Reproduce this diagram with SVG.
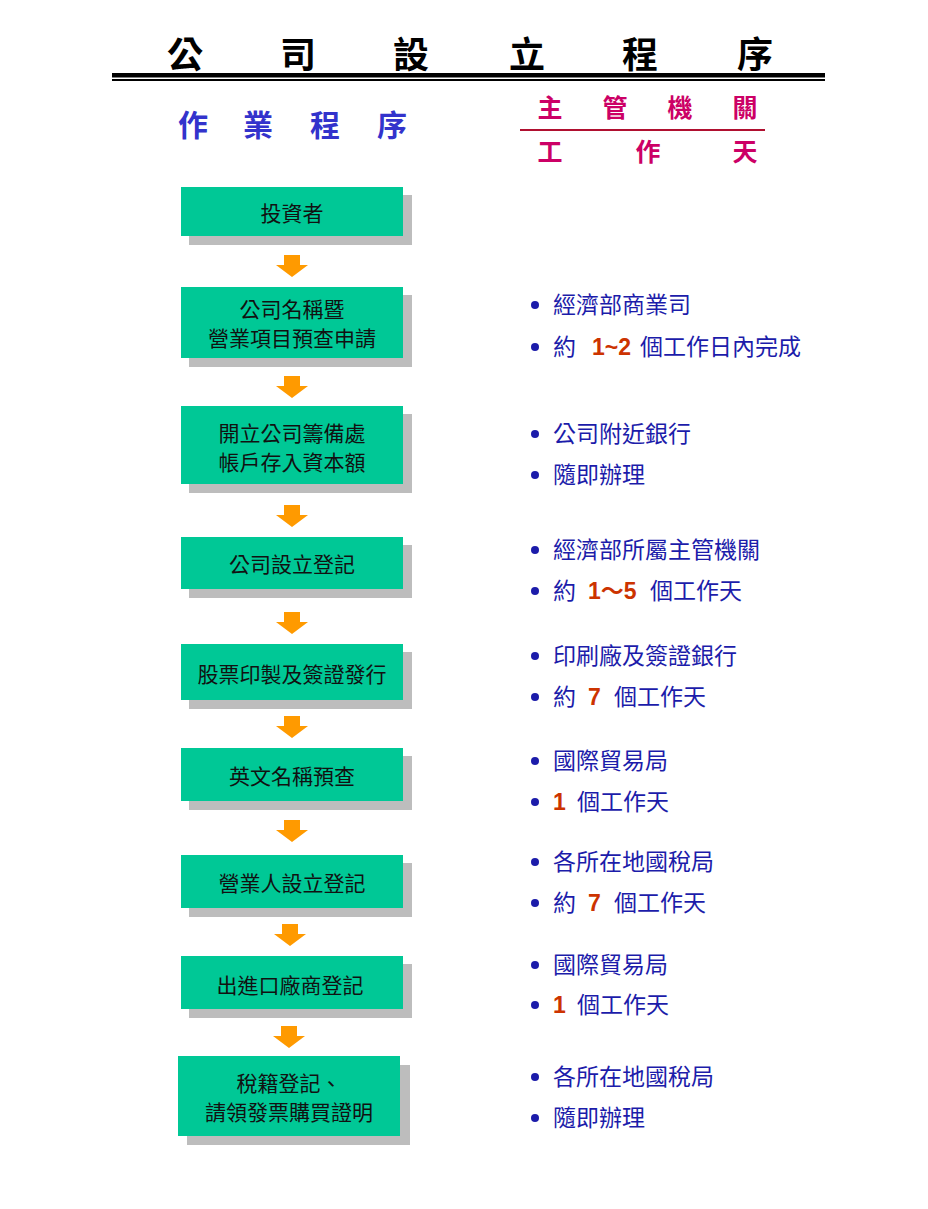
<svg xmlns="http://www.w3.org/2000/svg" width="928" height="1209" viewBox="0 0 928 1209">
<style>
.t{font-family:"Noto Sans CJK TC","Noto Sans CJK JP",sans-serif}
.box{fill:#00c896}
.sh{fill:#bdbdbd}
.bt{font-family:"Noto Sans CJK TC",sans-serif;font-size:21px;fill:#111;text-anchor:middle}
.rt{font-family:"Noto Sans CJK TC",sans-serif;font-size:23px;fill:#1c1caa}
.num{fill:#cc3300;font-family:"Liberation Sans",sans-serif;font-weight:bold}
.wave{font-family:"Noto Sans CJK TC",sans-serif;font-weight:bold}
.dot{fill:#1c1caa}
.arr{fill:#ff9a00}
</style>
<rect width="928" height="1209" fill="#fff"/>
<g id="title">
<text class="t" x="185 298 411 527 640 755" y="68" font-size="36" font-weight="bold" text-anchor="middle" fill="#000">公司設立程序</text>
<rect x="112" y="73" width="713" height="4.5" fill="#000"/>
<rect x="112" y="79" width="713" height="2" fill="#000"/>
</g>
<g id="headers">
<text class="t" x="193 258 325 392" y="136" font-size="30" font-weight="bold" text-anchor="middle" fill="#3333cc">作業程序</text>
<text class="t" x="550 615 680 745" y="117" font-size="25" font-weight="bold" text-anchor="middle" fill="#cc0066">主管機關</text>
<rect x="520" y="129" width="245" height="2" fill="#b01030"/>
<text class="t" x="550 648 745" y="161" font-size="25" font-weight="bold" text-anchor="middle" fill="#cc0066">工作天</text>
</g>
<g id="connectors">
<path class="arr" d="M284 255h16v10h8l-16 12l-16-12h8z"/>
<path class="arr" d="M284 376h16v10h8l-16 12l-16-12h8z"/>
<path class="arr" d="M284 505h16v10h8l-16 12l-16-12h8z"/>
<path class="arr" d="M284 612h16v10h8l-16 12l-16-12h8z"/>
<path class="arr" d="M284 716h16v10h8l-16 12l-16-12h8z"/>
<path class="arr" d="M284 820h16v10h8l-16 12l-16-12h8z"/>
<path class="arr" d="M282 924h16v10h8l-16 12l-16-12h8z"/>
<path class="arr" d="M281 1026h16v10h8l-16 12l-16-12h8z"/>
</g>
<g id="n1"><rect class="sh" x="189" y="195" width="223" height="50"/><rect class="box" x="181" y="187" width="222" height="49"/><text class="bt" x="292" y="221">投資者</text></g>
<g id="n2"><rect class="sh" x="189" y="295" width="223" height="72"/><rect class="box" x="181" y="287" width="222" height="71"/><text class="bt" x="292" y="317">公司名稱暨</text><text class="bt" x="292" y="346">營業項目預查申請</text></g>
<g id="n3"><rect class="sh" x="189" y="414" width="223" height="79"/><rect class="box" x="181" y="406" width="222" height="78"/><text class="bt" x="292" y="441">開立公司籌備處</text><text class="bt" x="292" y="470">帳戶存入資本額</text></g>
<g id="n4"><rect class="sh" x="189" y="545" width="223" height="53"/><rect class="box" x="181" y="537" width="222" height="52"/><text class="bt" x="292" y="572">公司設立登記</text></g>
<g id="n5"><rect class="sh" x="189" y="652" width="223" height="57"/><rect class="box" x="181" y="644" width="222" height="56"/><text class="bt" x="292" y="682">股票印製及簽證發行</text></g>
<g id="n6"><rect class="sh" x="189" y="756" width="223" height="54"/><rect class="box" x="181" y="748" width="222" height="53"/><text class="bt" x="292" y="784">英文名稱預查</text></g>
<g id="n7"><rect class="sh" x="189" y="863" width="223" height="54"/><rect class="box" x="181" y="855" width="222" height="53"/><text class="bt" x="292" y="891">營業人設立登記</text></g>
<g id="n8"><rect class="sh" x="189" y="964" width="223" height="54"/><rect class="box" x="181" y="956" width="222" height="53"/><text class="bt" x="290" y="993">出進口廠商登記</text></g>
<g id="n9"><rect class="sh" x="187" y="1065" width="223" height="80"/><rect class="box" x="178" y="1056" width="222" height="80"/><text class="bt" x="289" y="1091">稅籍登記、</text><text class="bt" x="289" y="1120">請領發票購買證明</text></g>
<g id="notes">
<circle class="dot" cx="535" cy="305" r="4"/><text class="rt" x="553" y="313">經濟部商業司</text>
<circle class="dot" cx="535" cy="347" r="4"/><text class="rt" x="553" y="355">約 <tspan class="num" x="592">1~2</tspan><tspan x="640">個工作日內完成</tspan></text>
<circle class="dot" cx="535" cy="434" r="4"/><text class="rt" x="553" y="442">公司附近銀行</text>
<circle class="dot" cx="535" cy="475" r="4"/><text class="rt" x="553" y="483">隨即辦理</text>
<circle class="dot" cx="535" cy="550" r="4"/><text class="rt" x="553" y="558">經濟部所屬主管機關</text>
<circle class="dot" cx="535" cy="591" r="4"/><text class="rt" x="553" y="599">約 <tspan class="num" x="588">1<tspan class="wave">～</tspan>5</tspan><tspan x="650">個工作天</tspan></text>
<circle class="dot" cx="535" cy="656" r="4"/><text class="rt" x="553" y="664">印刷廠及簽證銀行</text>
<circle class="dot" cx="535" cy="697" r="4"/><text class="rt" x="553" y="705">約 <tspan class="num" x="588">7</tspan><tspan x="614">個工作天</tspan></text>
<circle class="dot" cx="535" cy="761" r="4"/><text class="rt" x="553" y="769">國際貿易局</text>
<circle class="dot" cx="535" cy="802" r="4"/><text class="rt" x="553" y="810"><tspan class="num">1</tspan><tspan x="577">個工作天</tspan></text>
<circle class="dot" cx="535" cy="862" r="4"/><text class="rt" x="553" y="870">各所在地國稅局</text>
<circle class="dot" cx="535" cy="903" r="4"/><text class="rt" x="553" y="911">約 <tspan class="num" x="588">7</tspan><tspan x="614">個工作天</tspan></text>
<circle class="dot" cx="535" cy="965" r="4"/><text class="rt" x="553" y="973">國際貿易局</text>
<circle class="dot" cx="535" cy="1005" r="4"/><text class="rt" x="553" y="1013"><tspan class="num">1</tspan><tspan x="577">個工作天</tspan></text>
<circle class="dot" cx="535" cy="1077" r="4"/><text class="rt" x="553" y="1085">各所在地國稅局</text>
<circle class="dot" cx="535" cy="1118" r="4"/><text class="rt" x="553" y="1126">隨即辦理</text>
</g>
</svg>
